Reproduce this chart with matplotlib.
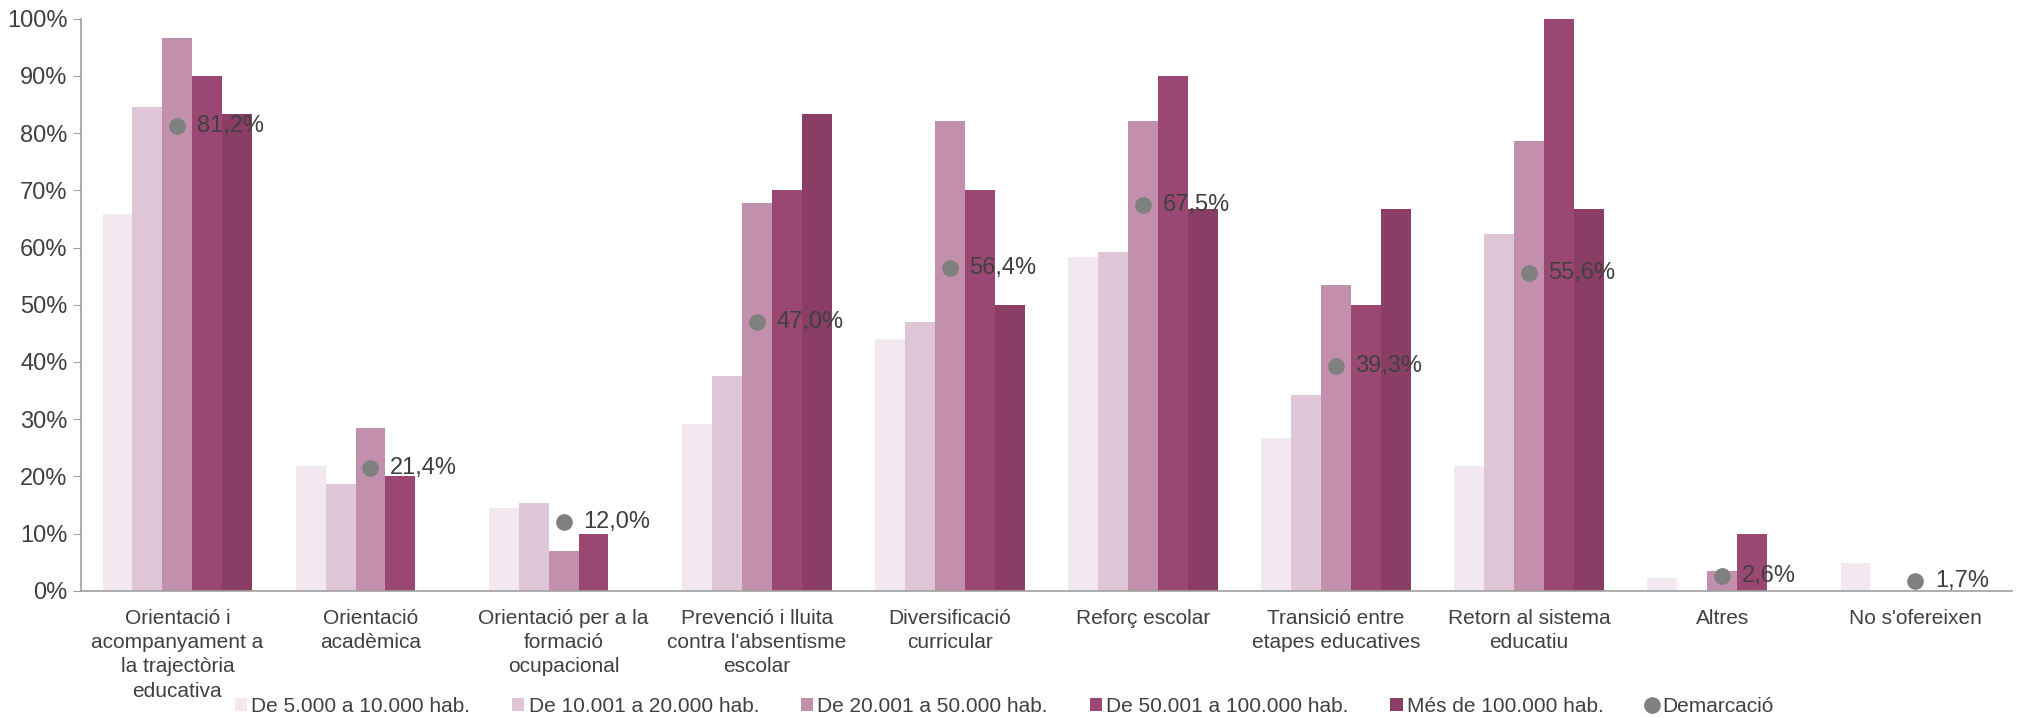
import numpy as np
import matplotlib.pyplot as plt
from matplotlib.ticker import PercentFormatter

plt.rcParams['font.family'] = ['Liberation Sans', 'DejaVu Sans']

categories = ["Orientació i\nacompanyament a\nla trajectòria\neducativa",
              "Orientació\nacadèmica",
              "Orientació per a la\nformació\nocupacional",
              "Prevenció i lluita\ncontra l'absentisme\nescolar",
              "Diversificació\ncurricular",
              "Reforç escolar",
              "Transició entre\netapes educatives",
              "Retorn al sistema\neducatiu",
              "Altres",
              "No s'ofereixen"]

series_names = ["De 5.000 a 10.000 hab.", "De 10.001 a 20.000 hab.",
                "De 20.001 a 50.000 hab.", "De 50.001 a 100.000 hab.",
                "Més de 100.000 hab."]

s1 = [65.8, 21.8, 14.5, 29.2, 44.0, 58.4, 26.7, 21.8, 2.2, 4.8]
s2 = [84.5, 18.7, 15.4, 37.5, 46.9, 59.3, 34.3, 62.4, 0.0, 0.0]
s3 = [96.6, 28.5, 7.0, 67.8, 82.1, 82.1, 53.5, 78.6, 3.4, 0.0]
s4 = [90.0, 20.0, 10.0, 70.0, 70.0, 90.0, 50.0, 100.0, 10.0, 0.0]
s5 = [83.3, 0.0, 0.0, 83.3, 50.0, 66.7, 66.7, 66.7, 0.0, 0.0]
demarcacio = [81.2, 21.4, 12.0, 47.0, 56.4, 67.5, 39.3, 55.6, 2.6, 1.7]

colors = ["#f3e8ef", "#dfc6d6", "#c290ad", "#9b4774", "#8a3e66"]

fig = plt.figure(figsize=(20.2, 7.17), dpi=100)
ax = fig.add_axes([0.040, 0.176, 0.956, 0.798])

x = np.arange(len(categories))
w = 0.155
handles = []
for k, vals in enumerate([s1, s2, s3, s4, s5]):
    b = ax.bar(x + (k - 2) * w, vals, width=w, color=colors[k], label=series_names[k])
    handles.append(b)

dot, = ax.plot(x, demarcacio, 'o', color='#808080', markersize=11, label='Demarcació')
handles.append(dot)
for xi, v in zip(x, demarcacio):
    ax.annotate(f"{v:.1f}%".replace('.', ','), (xi, v), xytext=(14, 0),
                textcoords='offset points', va='center', ha='left',
                fontsize=17, color='#404040')

ax.set_xlim(-0.5, len(categories) - 0.5)
ax.set_ylim(0, 100)
ax.set_yticks(np.arange(0, 101, 10))
ax.yaxis.set_major_formatter(PercentFormatter(decimals=0))
ax.set_xticks(x)
ax.set_xticklabels(categories, fontsize=15, color='#404040', linespacing=1.35)
ax.tick_params(axis='x', length=0, pad=13)
ax.tick_params(axis='y', labelsize=17, labelcolor='#404040', color='#a0a0a0', length=6)
for s in ['top', 'right']:
    ax.spines[s].set_visible(False)
for s in ['left', 'bottom']:
    ax.spines[s].set_color('#a0a0a0')
    ax.spines[s].set_linewidth(1.2)

fig.legend(handles=handles, loc='lower center', bbox_to_anchor=(0.497, -0.025), ncol=6,
           frameon=False, fontsize=15, handlelength=0.6, handleheight=0.6,
           handletextpad=0.2, columnspacing=2.0, labelcolor='#404040')

fig.savefig('out.png', dpi=100)
